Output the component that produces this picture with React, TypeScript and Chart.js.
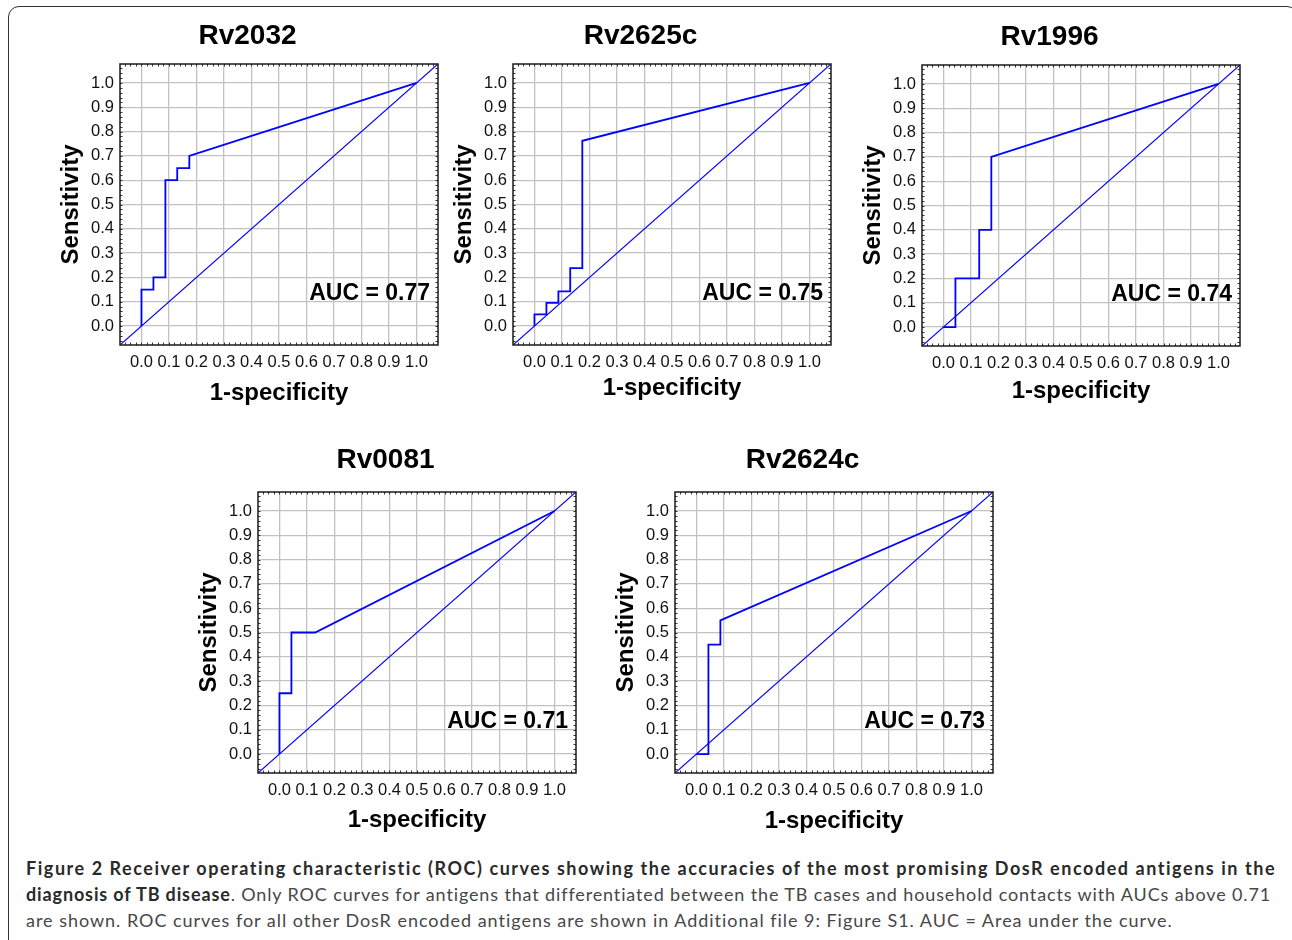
import React, { useEffect, useLayoutEffect, useRef } from "react";
import { Chart, registerables } from "chart.js";

Chart.register(...registerables);

// ---------- data ----------
const chartTitles = ["Rv2032", "Rv2625c", "Rv1996", "Rv0081", "Rv2624c"];
const aucValues = [0.77, 0.75, 0.74, 0.71, 0.73];

const rv2032X = [0, 0, 0.0435, 0.0435, 0.087, 0.087, 0.13, 0.13, 0.174, 0.174, 1];
const rv2032Y = [0, 0.15, 0.15, 0.2, 0.2, 0.6, 0.6, 0.65, 0.65, 0.7, 1];

const rv2625cX = [0, 0, 0.0435, 0.0435, 0.087, 0.087, 0.13, 0.13, 0.174, 0.174, 1];
const rv2625cY = [0, 0.048, 0.048, 0.095, 0.095, 0.143, 0.143, 0.238, 0.238, 0.762, 1];

const rv1996X = [0, 0.0435, 0.0435, 0.13, 0.13, 0.174, 0.174, 1];
const rv1996Y = [0, 0, 0.2, 0.2, 0.4, 0.4, 0.7, 1];

const rv0081X = [0, 0, 0.0435, 0.0435, 0.13, 1];
const rv0081Y = [0, 0.25, 0.25, 0.5, 0.5, 1];

const rv2624cX = [0, 0.0435, 0.0435, 0.087, 0.087, 1];
const rv2624cY = [0, 0, 0.45, 0.45, 0.55, 1];

const tickValues = [0, 0.1, 0.2, 0.3, 0.4, 0.5, 0.6, 0.7, 0.8, 0.9, 1.0];
const AXIS_MIN = -0.078;
const AXIS_MAX = 1.078;
const xAxisTitle = "1-specificity";
const yAxisTitle = "Sensitivity";

// ---------- style / layout ----------
const FONT = '"Liberation Sans", Arial, Helvetica, sans-serif';
const CAPTION_FONT = 'Lato, "Open Sans", sans-serif';
const PLOT_W = 318;
const PLOT_H = 281;
const Y_AXIS_W = 63;
const TITLE_LH = 34;
const GRID = "#c2c2c2";
const BLUE = "#0000ff";
const AUC_BASE_Y = 0.107;

type RocProps = {
  title: string;
  xs: number[];
  ys: number[];
  auc: number;
  plotLeft: number;
  plotTop: number;
  titleCenter: number;
  titleGap: number;
  xAxisHeight: number;
};

const framePlugin = {
  id: "rocFrame",
  afterDatasetsDraw(chart: any) {
    const { ctx, chartArea: a, scales } = chart;
    ctx.save();
    ctx.strokeStyle = "#333";
    ctx.lineWidth = 1;
    ctx.beginPath();
    for (let i = -3; i <= 54; i++) {
      const v = i * 0.02;
      if (v <= AXIS_MIN + 0.005 || v >= AXIS_MAX - 0.005) continue;
      const px = Math.round(scales.x.getPixelForValue(v)) + 0.5;
      ctx.moveTo(px, a.top);
      ctx.lineTo(px, a.top + 2.5);
      ctx.moveTo(px, a.bottom);
      ctx.lineTo(px, a.bottom - 2.5);
      const py = Math.round(scales.y.getPixelForValue(v)) + 0.5;
      ctx.moveTo(a.left, py);
      ctx.lineTo(a.left + 2.5, py);
      ctx.moveTo(a.right, py);
      ctx.lineTo(a.right - 2.5, py);
    }
    ctx.stroke();
    ctx.strokeStyle = "#1a1a1a";
    ctx.lineWidth = 1.5;
    ctx.strokeRect(a.left, a.top, a.right - a.left, a.bottom - a.top);
    ctx.restore();
  },
  afterDraw(chart: any, _args: any, opts: any) {
    const { ctx, chartArea: a, scales } = chart;
    ctx.save();
    ctx.font = `bold 23px ${FONT}`;
    ctx.fillStyle = "#000";
    ctx.textAlign = "right";
    ctx.textBaseline = "alphabetic";
    ctx.fillText(`AUC = ${Number(opts.auc).toFixed(2)}`, a.right - 8, scales.y.getPixelForValue(AUC_BASE_Y));
    ctx.restore();
  },
};

function RocChart(p: RocProps) {
  const ref = useRef<HTMLCanvasElement>(null);
  const left = p.plotLeft - Y_AXIS_W;
  const width = Math.round(2 * (p.titleCenter - left));
  const top = p.plotTop - TITLE_LH - p.titleGap;
  const height = p.plotTop - top + PLOT_H + p.xAxisHeight;
  const padRight = width - Y_AXIS_W - PLOT_W;

  useEffect(() => {
    const roc = p.xs.map((x, i) => ({ x, y: p.ys[i] }));
    const diag = [
      { x: AXIS_MIN, y: AXIS_MIN },
      { x: AXIS_MAX, y: AXIS_MAX },
    ];
    const tickFont = { family: FONT, size: 16.5, lineHeight: "18px" };
    const axTitleFont = { family: FONT, size: 24, weight: "bold" as const, lineHeight: "28px" };
    const chart = new Chart(ref.current as HTMLCanvasElement, {
      type: "scatter",
      data: {
        datasets: [
          {
            data: roc,
            showLine: true,
            borderColor: BLUE,
            borderWidth: 1.8,
            pointRadius: 0,
            tension: 0,
          },
          {
            data: diag,
            showLine: true,
            borderColor: BLUE,
            borderWidth: 1.2,
            pointRadius: 0,
            tension: 0,
          },
        ],
      },
      options: {
        animation: false,
        responsive: false,
        devicePixelRatio: 1,
        events: [],
        layout: { padding: { left: 0, right: padRight, top: 0, bottom: 0 } },
        plugins: {
          legend: { display: false },
          tooltip: { enabled: false },
          title: {
            display: true,
            text: p.title,
            color: "#000",
            font: { family: FONT, size: 28, weight: "bold", lineHeight: `${TITLE_LH}px` },
            padding: { top: 0, bottom: p.titleGap },
          },
          // @ts-ignore
          rocFrame: { auc: p.auc },
        },
        scales: {
          x: {
            type: "linear",
            min: AXIS_MIN,
            max: AXIS_MAX,
            afterBuildTicks: (s: any) => {
              s.ticks = tickValues.map((v) => ({ value: v }));
            },
            afterFit: (s: any) => {
              s.height = p.xAxisHeight;
            },
            ticks: {
              callback: (v: any) => Number(v).toFixed(1),
              color: "#111",
              font: tickFont,
              padding: 8,
              maxRotation: 0,
              minRotation: 0,
              autoSkip: false,
            },
            grid: { color: GRID, lineWidth: 1.3, drawTicks: false },
            border: { display: false },
            title: { display: true, text: xAxisTitle, color: "#000", font: axTitleFont, padding: 0 },
          },
          y: {
            type: "linear",
            min: AXIS_MIN,
            max: AXIS_MAX,
            afterBuildTicks: (s: any) => {
              s.ticks = tickValues.map((v) => ({ value: v }));
            },
            afterFit: (s: any) => {
              s.width = Y_AXIS_W;
            },
            ticks: {
              callback: (v: any) => Number(v).toFixed(1),
              color: "#111",
              font: tickFont,
              padding: 6,
              autoSkip: false,
            },
            grid: { color: GRID, lineWidth: 1.3, drawTicks: false },
            border: { display: false },
            title: { display: true, text: yAxisTitle, color: "#000", font: axTitleFont, padding: 0 },
          },
        },
      },
      plugins: [framePlugin],
    } as any);
    return () => chart.destroy();
  }, []);

  return (
    <canvas
      ref={ref}
      width={width}
      height={height}
      style={{ position: "absolute", left, top, width, height }}
    />
  );
}

function CaptionLine({ children, top, target }: { children: React.ReactNode; top: number; target: number }) {
  const ref = useRef<HTMLDivElement>(null);
  useLayoutEffect(() => {
    const el = ref.current;
    if (!el) return;
    el.style.letterSpacing = "0px";
    const w = el.getBoundingClientRect().width;
    const n = (el.textContent || "").length;
    if (n > 1) el.style.letterSpacing = `${(target - w) / n}px`;
  }, []);
  return (
    <div
      ref={ref}
      style={{
        position: "absolute",
        left: 26,
        top,
        whiteSpace: "nowrap",
        fontFamily: CAPTION_FONT,
        fontSize: 18,
        lineHeight: "26px",
        color: "#474747",
      }}
    >
      {children}
    </div>
  );
}

export default function App() {
  const b = { fontWeight: 700, color: "#2a2a2a" } as React.CSSProperties;
  return (
    <div style={{ position: "fixed", inset: 0, overflow: "hidden", background: "#fff" }}>
      <div
        style={{
          position: "absolute",
          left: 8,
          top: 5.5,
          width: 1290,
          height: 945,
          border: "1.5px solid #333",
          borderRadius: 11,
          boxSizing: "border-box",
        }}
      />
      <RocChart title={chartTitles[0]} xs={rv2032X} ys={rv2032Y} auc={aucValues[0]} plotLeft={120} plotTop={64} titleCenter={280} titleGap={11} xAxisHeight={62} />
      <RocChart title={chartTitles[1]} xs={rv2625cX} ys={rv2625cY} auc={aucValues[1]} plotLeft={513} plotTop={64} titleCenter={670} titleGap={11} xAxisHeight={57} />
      <RocChart title={chartTitles[2]} xs={rv1996X} ys={rv1996Y} auc={aucValues[2]} plotLeft={922} plotTop={65} titleCenter={1096} titleGap={11} xAxisHeight={59} />
      <RocChart title={chartTitles[3]} xs={rv0081X} ys={rv0081Y} auc={aucValues[3]} plotLeft={258} plotTop={492} titleCenter={387} titleGap={15} xAxisHeight={61} />
      <RocChart title={chartTitles[4]} xs={rv2624cX} ys={rv2624cY} auc={aucValues[4]} plotLeft={675} plotTop={492} titleCenter={832} titleGap={15} xAxisHeight={62} />

      <CaptionLine top={855} target={1251}>
        <span style={b}>
          Figure 2 Receiver operating characteristic (ROC) curves showing the accuracies of the most promising DosR encoded antigens in the
        </span>
      </CaptionLine>
      <CaptionLine top={881} target={1245}>
        <span style={b}>diagnosis of TB disease</span>. Only ROC curves for antigens that differentiated between the TB cases and household contacts with AUCs above 0.71
      </CaptionLine>
      <CaptionLine top={907} target={1147}>
        are shown. ROC curves for all other DosR encoded antigens are shown in Additional file 9: Figure S1. AUC = Area under the curve.
      </CaptionLine>
    </div>
  );
}
